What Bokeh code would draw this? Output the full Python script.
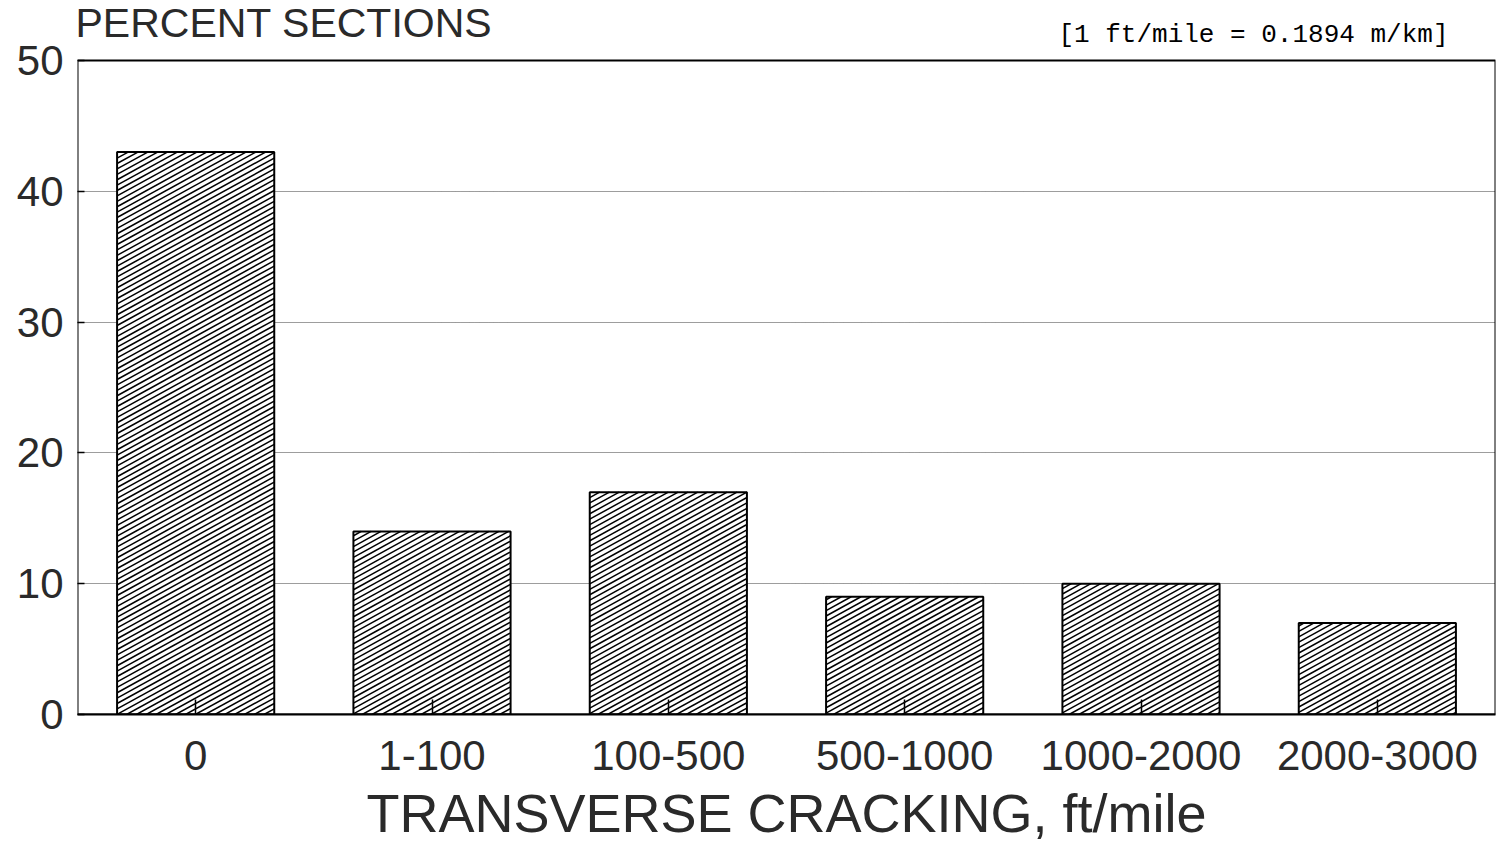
import math

from bokeh.plotting import figure
from bokeh.models import Range1d, FixedTicker, Label
from bokeh.embed import file_html
from bokeh.resources import INLINE

# Share of sections per transverse-cracking class
categories = ["0", "1-100", "100-500", "500-1000", "1000-2000", "2000-3000"]
percent_sections = [43, 14, 17, 9, 10, 7]
y_ticks = [0, 10, 20, 30, 40, 50]

W, H = 1501, 845
BORDER_L, BORDER_R, BORDER_B = 77, 6, 131
TOP_PAD = 60  # room above the plot box for the headings
frame_w = W - BORDER_L - BORDER_R
frame_h = H - BORDER_B

n = len(categories)
y_max = 50
y_top = y_max * frame_h / (frame_h - TOP_PAD)
bar_w = 0.665

SANS = "Liberation Sans"
TEXT = "#2a2a2a"

p = figure(
    width=W, height=H,
    x_range=Range1d(0, n), y_range=Range1d(0, y_top),
    output_backend="svg", toolbar_location=None,
    min_border_left=BORDER_L, min_border_right=BORDER_R,
    min_border_top=0, min_border_bottom=BORDER_B,
    background_fill_color="white", border_fill_color="white",
)
p.outline_line_color = None

# dotted horizontal grid, no vertical grid
p.xgrid.grid_line_color = None
p.ygrid.ticker = FixedTicker(ticks=y_ticks[1:-1])
p.ygrid.grid_line_color = "#3a3a3a"
p.ygrid.grid_line_dash = "1 1"
p.ygrid.grid_line_width = 1

# y axis
p.yaxis.ticker = FixedTicker(ticks=y_ticks)
p.yaxis.axis_line_color = None
p.yaxis.major_tick_in = 7
p.yaxis.major_tick_out = 0
p.yaxis.minor_tick_line_color = None
p.yaxis.major_tick_line_width = 1.5
p.yaxis.major_label_standoff = 14
p.yaxis.major_label_text_font = SANS
p.yaxis.major_label_text_font_size = "42px"
p.yaxis.major_label_text_color = TEXT

# x axis with class labels at the bar centres
centers = [i + 0.5 for i in range(n)]
p.xaxis.ticker = FixedTicker(ticks=centers)
p.xaxis.major_label_overrides = {c: lab for c, lab in zip(centers, categories)}
p.xaxis.axis_line_color = "black"
p.xaxis.axis_line_width = 2
p.xaxis.major_tick_in = 15
p.xaxis.major_tick_out = 0
p.xaxis.major_tick_line_width = 1.5
p.xaxis.minor_tick_line_color = None
p.xaxis.major_label_standoff = 26
p.xaxis.major_label_text_font = SANS
p.xaxis.major_label_text_font_size = "42px"
p.xaxis.major_label_text_color = TEXT
p.xaxis.axis_label = "TRANSVERSE CRACKING, ft/mile"
p.xaxis.axis_label_text_font = SANS
p.xaxis.axis_label_text_font_style = "normal"
p.xaxis.axis_label_text_font_size = "54px"
p.xaxis.axis_label_text_color = TEXT
p.xaxis.axis_label_standoff = 10

lefts = [c - bar_w / 2 for c in centers]
rights = [c + bar_w / 2 for c in centers]

# white bar bodies hide the grid behind them
p.quad(left=lefts, right=rights, bottom=0, top=percent_sections,
       fill_color="white", line_color=None)

# diagonal hatching, laid out in screen pixels so the angle is constant
px_x = frame_w / n
px_y = frame_h / y_top
slope = 0.55
gap = 5.4
hx, hy = [], []
for l, r, v in zip(lefts, rights, percent_sections):
    x0, x1 = l * px_x, r * px_x
    y0, y1 = 0.0, v * px_y
    kmin = math.ceil((y0 - slope * x1) / gap)
    kmax = math.floor((y1 - slope * x0) / gap)
    for k in range(kmin, kmax + 1):
        c = k * gap
        xa = max(x0, (y0 - c) / slope)
        xb = min(x1, (y1 - c) / slope)
        if xb > xa:
            hx.append([xa / px_x, xb / px_x])
            hy.append([(slope * xa + c) / px_y, (slope * xb + c) / px_y])
p.multi_line(xs=hx, ys=hy, line_color="black", line_width=1.5)

# bar outlines
p.quad(left=lefts, right=rights, bottom=0, top=percent_sections,
       fill_color=None, line_color="black", line_width=2)

# plot box from 0 to 50 percent
p.quad(left=[0], right=[n], bottom=[0], top=[y_max],
       fill_color=None, line_color="black", line_width=2)

# headings above the plot box
p.add_layout(Label(
    x=0, y=y_max, x_offset=-2, y_offset=38,
    text="PERCENT SECTIONS", text_font=SANS, text_font_size="41px",
    text_color=TEXT, text_baseline="alphabetic", text_align="left",
))
p.add_layout(Label(
    x=n, y=y_max, x_offset=-47, y_offset=26,
    text="[1 ft/mile = 0.1894 m/km]", text_font="Liberation Mono",
    text_font_size="26px", text_color="black",
    text_baseline="alphabetic", text_align="right",
))

open("out.html", "w").write(file_html(p, INLINE))
